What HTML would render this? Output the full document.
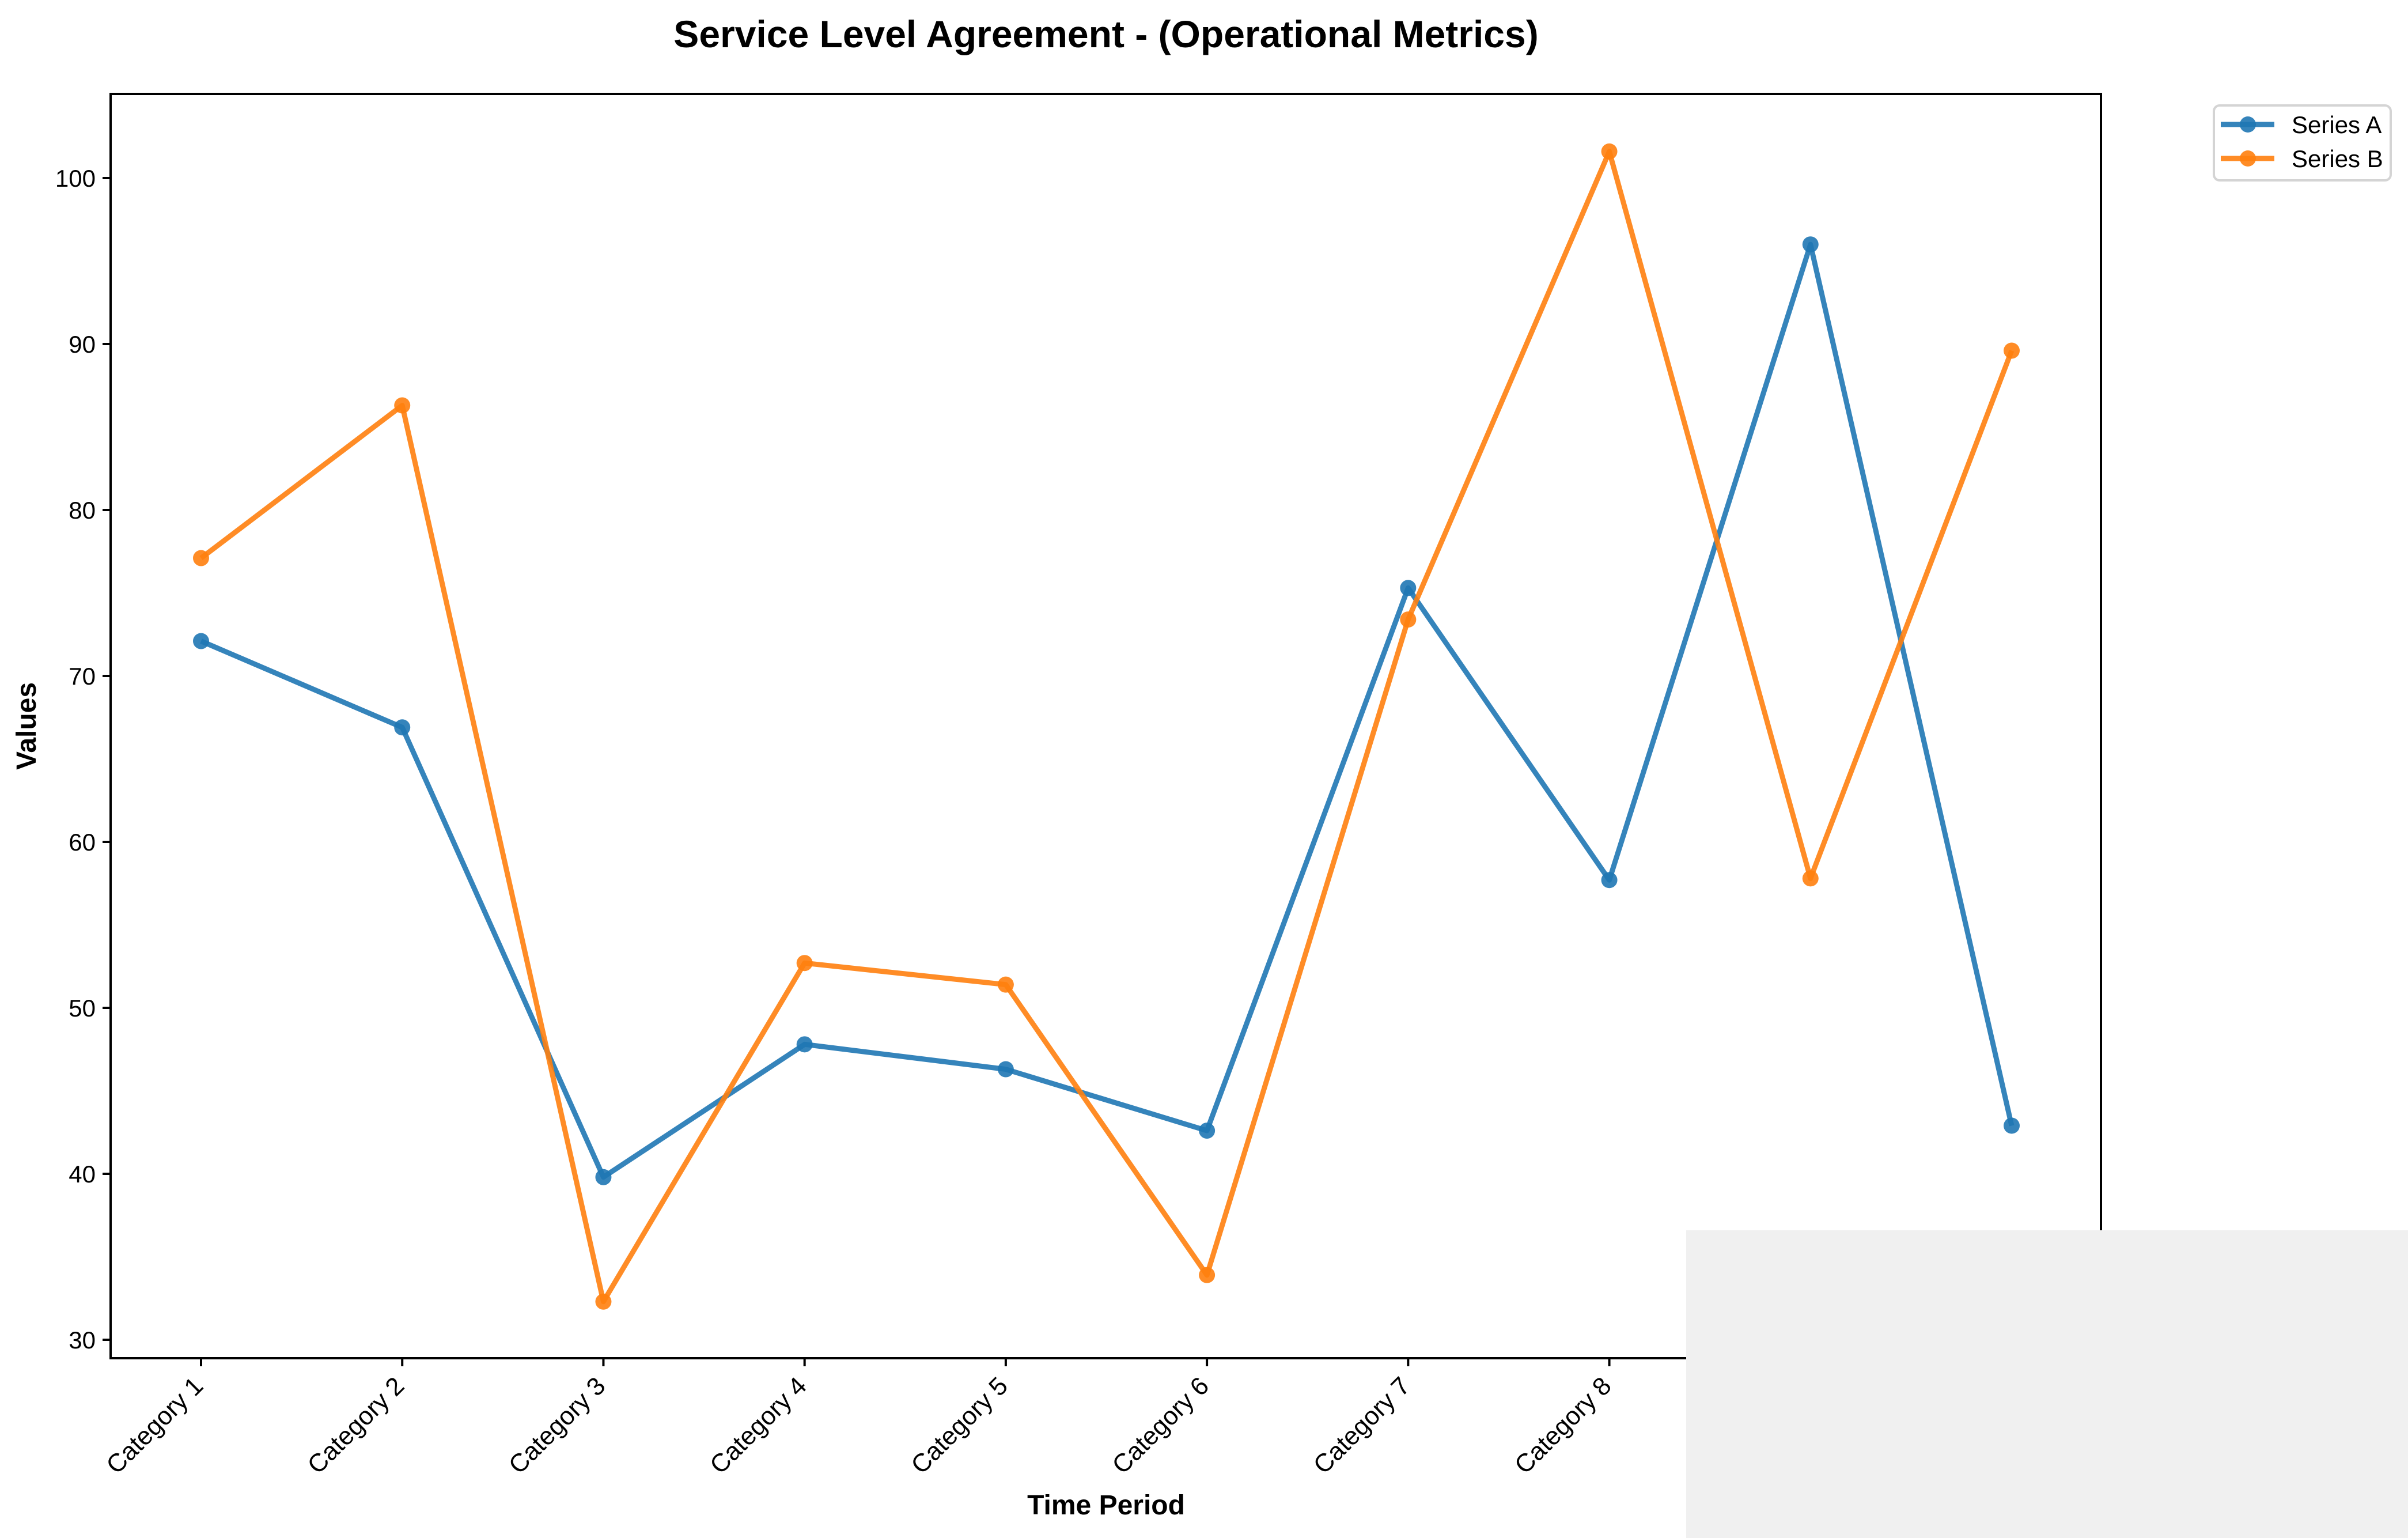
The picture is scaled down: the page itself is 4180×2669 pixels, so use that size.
<!DOCTYPE html>
<html><head><meta charset="utf-8"><style>
html,body{margin:0;padding:0;background:#fff;}
svg{display:block;font-family:"Liberation Sans",Arial,sans-serif;}
</style></head><body>
<svg id="chart" width="4180" height="2669" viewBox="0 0 4180 2669" xmlns="http://www.w3.org/2000/svg">
<rect width="4180" height="2669" fill="#fff"/>
<text x="1920" y="82" text-anchor="middle" font-size="66" font-weight="bold">Service Level Agreement - (Operational Metrics)</text>
<text transform="translate(62,1260) rotate(-90)" text-anchor="middle" font-size="48" font-weight="bold">Values</text>
<text x="1920" y="2628" text-anchor="middle" font-size="48" font-weight="bold">Time Period</text>
<g id="yaxis"></g>
<g id="xaxis"></g>
<g id="series"></g>
<rect x="192" y="163" width="3455" height="2194" fill="none" stroke="#000" stroke-width="4"/>
<g>
<rect x="3843" y="183" width="307" height="130" rx="10" fill="#fff" stroke="#d4d4d4" stroke-width="4"/>
<line x1="3855" y1="216" x2="3948" y2="216" stroke="#1f77b4" stroke-opacity="0.9" stroke-width="9"/>
<circle cx="3902" cy="216" r="14" fill="#1f77b4" fill-opacity="0.9"/>
<text x="3978" y="231" font-size="42">Series A</text>
<line x1="3855" y1="275" x2="3948" y2="275" stroke="#ff7f0e" stroke-opacity="0.9" stroke-width="9"/>
<circle cx="3902" cy="275" r="14" fill="#ff7f0e" fill-opacity="0.9"/>
<text x="3978" y="290" font-size="42">Series B</text>
</g>
<rect x="2927" y="2135" width="1253" height="534" fill="#f0f0f0"/>
</svg>
<script>
const categories = ["Category 1","Category 2","Category 3","Category 4","Category 5","Category 6","Category 7","Category 8","Category 9","Category 10"];
const seriesA = [72.1, 66.9, 39.8, 47.8, 46.3, 42.6, 75.3, 57.7, 96.0, 42.9];
const seriesB = [77.1, 86.3, 32.3, 52.7, 51.4, 33.9, 73.4, 101.6, 57.8, 89.6];
const yTicks = [30, 40, 50, 60, 70, 80, 90, 100];
const NS = "http://www.w3.org/2000/svg";
function xs(i){ return 349 + i * (3492 - 349) / 9; }
function ys(v){ return 2325 - (v - 30) * (2325 - 309) / 70; }
function mk(tag, attrs, parent){ const e = document.createElementNS(NS, tag); for (const k in attrs) e.setAttribute(k, attrs[k]); parent.appendChild(e); return e; }
const yg = document.getElementById('yaxis');
yTicks.forEach(t => {
  const l = mk('line', {x1:178, x2:192, y1:ys(t), y2:ys(t), stroke:'#000', 'stroke-width':4}, yg);
  
  
  const tx = mk('text', {x:166, y:ys(t)+15, 'text-anchor':'end', 'font-size':42}, yg);
  tx.textContent = t;
  
  
});
const xg = document.getElementById('xaxis');
categories.forEach((c, i) => {
  const l = mk('line', {x1:xs(i), x2:xs(i), y1:2357, y2:2371, stroke:'#000', 'stroke-width':4}, xg);
  
  
  const tx = mk('text', {transform:`translate(${xs(i)+6},${2408}) rotate(-45)`, 'text-anchor':'end', 'font-size':44}, xg);
  tx.textContent = c;
  
  
});
const sg = document.getElementById('series');
[[seriesA, '#1f77b4', 'series-a'], [seriesB, '#ff7f0e', 'series-b']].forEach(([vals, col, name]) => {
  const pts = vals.map((v, i) => xs(i) + ',' + ys(v)).join(' ');
  const pl = mk('polyline', {points:pts, fill:'none', stroke:col, 'stroke-width':9, 'stroke-opacity':0.9, 'stroke-linejoin':'round'}, sg);
  
  
  vals.forEach((v, i) => {
    const c = mk('circle', {cx:xs(i), cy:ys(v), r:14, fill:col, 'fill-opacity':0.9}, sg);
    
    
  });
});
</script>
</body></html>
